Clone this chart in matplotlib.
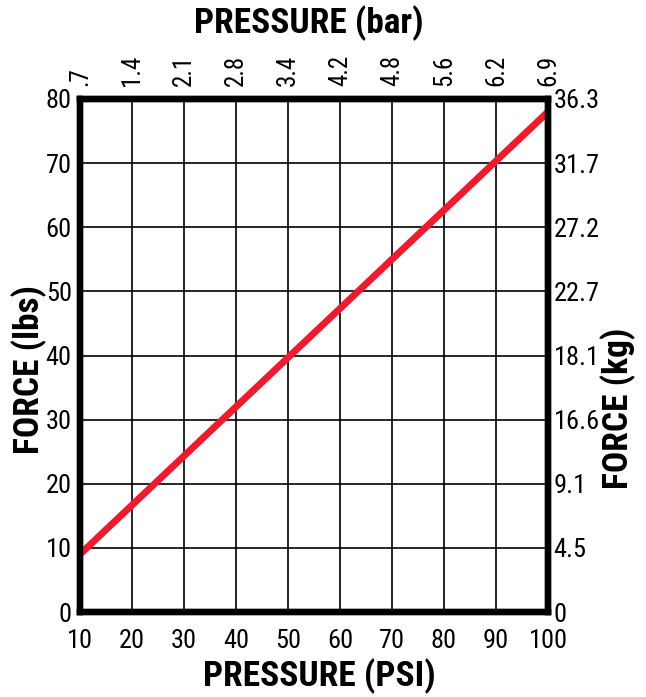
import matplotlib.pyplot as plt
from matplotlib import font_manager

psi = [10, 100]
force_lbs = [9, 78]

psi_ticks = [10, 20, 30, 40, 50, 60, 70, 80, 90, 100]
bar_labels = [".7", "1.4", "2.1", "2.8", "3.4", "4.2", "4.8", "5.6", "6.2", "6.9"]
lbs_ticks = [0, 10, 20, 30, 40, 50, 60, 70, 80]
kg_labels = ["0", "4.5", "9.1", "16.6", "18.1", "22.7", "27.2", "31.7", "36.3"]

# prefer a condensed face (with a bold weight) if one is installed
fonts = font_manager.fontManager.ttflist
narrow = sorted({f.name for f in fonts if "Narrow" in f.name or "Condensed" in f.name})
pref = ["Liberation Sans Narrow", "Roboto Condensed", "Open Sans Condensed",
        "Noto Sans Condensed", "DejaVu Sans Condensed"]
narrow = [n for n in pref if n in narrow] + [n for n in narrow if n not in pref]
bold_ok = [n for n in narrow
           if any(f.name == n and (f.weight == "bold" or
                                   (isinstance(f.weight, int) and f.weight >= 700))
                  for f in fonts)]
font = narrow[0] if narrow else "Liberation Sans"
bold_font = bold_ok[0] if bold_ok else "Liberation Sans"
plt.rcParams["font.family"] = [font, "DejaVu Sans"]

fig = plt.figure(figsize=(6.46, 6.97), dpi=100)
ax = fig.add_axes([80 / 646, 1 - 612 / 697, 468 / 646, 513 / 697])

ax.plot(psi, force_lbs, color="#ec1c2e", lw=5, solid_capstyle="butt", zorder=3)
ax.set_xlim(10, 100)
ax.set_ylim(0, 80)
ax.set_xticks(psi_ticks)
ax.set_yticks(lbs_ticks)
ax.grid(True, color="black", lw=1.2)
ax.tick_params(length=0, labelsize=19)
ax.tick_params(axis="x", pad=12)
ax.tick_params(axis="y", pad=6)

top = ax.twiny()
top.set_xlim(ax.get_xlim())
top.set_xticks(psi_ticks)
top.set_xticklabels(bar_labels, rotation=90)
top.tick_params(length=0, labelsize=18, pad=9)

right = ax.twinx()
right.set_ylim(ax.get_ylim())
right.set_yticks(lbs_ticks)
right.set_yticklabels(kg_labels)
right.tick_params(length=0, labelsize=19, pad=4)
for a in (ax, top, right):
    for s in a.spines.values():
        s.set_linewidth(4.5)

lab = dict(fontsize=25.5, fontweight="bold", family=[bold_font, "DejaVu Sans"],
           ha="center", va="center")
fig.text(309 / 646, 1 - 23 / 697, "PRESSURE (bar)", **lab)
fig.text(319 / 646, 1 - 676 / 697, "PRESSURE (PSI)", **lab)
fig.text(29 / 646, 1 - 370 / 697, "FORCE (lbs)", rotation=90, **lab)
fig.text(618 / 646, 1 - 408 / 697, "FORCE (kg)", rotation=90, **lab)

fig.savefig("out.png", dpi=100)
